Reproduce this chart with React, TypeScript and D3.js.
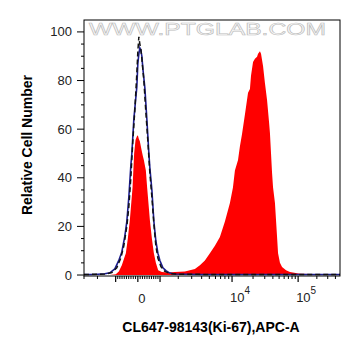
import React from "react";
import * as d3 from "d3";

// ---------- data (fluorescence value, relative count) ----------
const redSample: [number, number][] = [
  [-3000, 0], [-1292, 0], [-993, 0.3], [-850, 1.5], [-710, 4], [-619, 6.5], [-528, 9],
  [-439, 15], [-350, 22.6], [-284, 30], [-231, 36], [-162, 50], [-101, 55.5], [-44, 57],
  [0, 57.5], [44, 56], [87, 55], [162, 51.4], [218, 49], [262, 47.3], [350, 43], [407, 36],
  [461, 30], [528, 22.6], [619, 15], [710, 9], [802, 5], [910, 2], [1091, 1.2], [1399, 1],
  [1790, 1.2], [2454, 1.5], [3291, 2.5], [3804, 4], [4395, 6], [5086, 9], [5900, 12],
  [6858, 15.6], [7995, 22], [9349, 29.6], [10294, 36], [10961, 43], [12123, 47.3],
  [12897, 53], [13823, 58], [15213, 66], [16881, 75], [17993, 76.5], [18662, 82],
  [20000, 87.6], [21338, 89], [22950, 89.8], [23759, 91], [25368, 92], [26332, 91],
  [28261, 86], [30190, 79], [32528, 72], [34867, 63], [36036, 58.4], [37445, 50],
  [38854, 42], [40263, 36], [43082, 29.6], [46464, 15.6], [48155, 9], [51536, 5],
  [55629, 3.3], [64245, 2], [74151, 1.2], [106980, 0.5], [224800, 0.3], [475000, 0.2],
];

const blueIsotype: [number, number][] = [
  [-3000, 0.2], [-2190, 0.2], [-1560, 0.5], [-1292, 0.9], [-1040, 2.5], [-850, 6],
  [-710, 9.5], [-573, 16], [-484, 22], [-395, 32], [-306, 45], [-262, 50], [-175, 64],
  [-44, 77.5], [0, 87], [44, 91], [87, 93.4], [131, 92.5], [175, 90], [218, 85],
  [306, 77], [395, 64], [484, 50], [528, 44], [619, 35], [710, 22], [802, 14], [897, 9],
  [992, 6], [1141, 3], [1293, 1.8], [1505, 0.8], [1790, 0.4], [2454, 0.3], [3804, 0.2],
  [17993, 0.2], [475000, 0.2],
];

const blackControl: [number, number][] = [
  [-3000, 0.2], [-1560, 0.4], [-1191, 1], [-945, 3], [-756, 7], [-619, 12], [-484, 20],
  [-395, 28], [-306, 40], [-219, 55], [-131, 68], [-44, 83], [0, 92], [44, 98], [87, 95],
  [131, 93], [175, 89], [262, 80], [350, 67], [439, 55], [528, 42], [619, 32], [710, 21],
  [802, 12], [897, 7], [1042, 3.5], [1240, 1.5], [1505, 0.6], [2104, 0.3], [17993, 0.2],
  [475000, 0.2],
];

const X_DOMAIN = [-3000, 475000];
const Y_DOMAIN = [-0.4, 104.9];
const Y_TICKS = [0, 20, 40, 60, 80, 100];
const X_MAJOR_TICKS = [-1000, 0, 1000, 10000, 100000];
const X_TICK_LABELS = [
  { value: 0, base: "0", exp: "" },
  { value: 10000, base: "10", exp: "4" },
  { value: 100000, base: "10", exp: "5" },
];
const X_LABEL = "CL647-98143(Ki-67),APC-A";
const Y_LABEL = "Relative Cell Number";
const WATERMARK = "WWW.PTGLAB.COM";

// ---------- logicle-like transform ----------
const P = 4;
const K = 231;
function S(u: number) {
  const a = Math.abs(u);
  const v = K * (Math.exp(a) - P * P * Math.exp(-a / P) + P * P - 1);
  return u < 0 ? -v : v;
}
function logicle(x: number) {
  let lo = -15, hi = 15;
  for (let i = 0; i < 80; i++) {
    const mid = (lo + hi) / 2;
    if (S(mid) < x) lo = mid; else hi = mid;
  }
  return (lo + hi) / 2;
}

const W = 361, H = 356;
const M = { left: 84, top: 20, right: 21, bottom: 80 };
const FONT = "'Liberation Sans', Arial, Helvetica, sans-serif";

export default function App() {
  const iw = W - M.left - M.right;
  const ih = H - M.top - M.bottom;
  const uScale = d3.scaleLinear().domain([logicle(X_DOMAIN[0]), logicle(X_DOMAIN[1])]).range([0, iw]);
  const x = (v: number) => uScale(logicle(v));
  const y = d3.scaleLinear().domain(Y_DOMAIN).range([ih, 0]);

  const area = d3.area<[number, number]>().x(d => x(d[0])).y0(y(0)).y1(d => y(d[1]));
  const line = d3.line<[number, number]>().x(d => x(d[0])).y(d => y(d[1]));

  const minor: number[] = [
    -3000, -2000,
    ...d3.range(-900, 0, 100),
    ...d3.range(100, 1000, 100),
    ...d3.range(2000, 10000, 1000),
    ...d3.range(20000, 100000, 10000),
    ...d3.range(200000, 500000, 100000),
  ].filter(v => v >= X_DOMAIN[0] && v <= X_DOMAIN[1]);
  const yMinor = d3.range(5, 105, 5).filter(v => v % 20 !== 0);

  return (
    <svg width={W} height={H} style={{ position: "absolute", left: 0, top: 0, background: "#fff" }}
      fontFamily={FONT}>
      <defs>
        <clipPath id="plotclip"><rect x={0} y={0} width={iw} height={ih} /></clipPath>
      </defs>
      <g transform={`translate(${M.left},${M.top})`}>
        <text x={5} y={15} fontSize={17} fill="#fafafa" stroke="#bdbdbd"
          strokeWidth={0.6} textLength={237} lengthAdjust="spacingAndGlyphs">{WATERMARK}</text>
        <g clipPath="url(#plotclip)">
          <path d={area(redSample) || ""} fill="#ff0000" />
          <path d={line(blueIsotype) || ""} fill="none" stroke="#1c1c8e" strokeWidth={1.6} />
          <path d={line(blackControl) || ""} fill="none" stroke="#111" strokeWidth={1.5} strokeDasharray="5,3" />
        </g>
        <rect x={0} y={0} width={iw} height={ih} fill="none" stroke="#000" strokeWidth={1} />
        {/* y axis ticks */}
        {Y_TICKS.map(t => (
          <g key={"yt" + t} transform={`translate(0,${y(t)})`}>
            <line x1={-7} x2={0} stroke="#000" />
            <text x={-12} dy="0.35em" textAnchor="end" fontSize={13} fill="#222">{t}</text>
          </g>
        ))}
        {yMinor.map(t => (
          <line key={"ym" + t} x1={-3} x2={0} y1={y(t)} y2={y(t)} stroke="#000" />
        ))}
        {/* x axis ticks */}
        {X_MAJOR_TICKS.map(t => (
          <line key={"xt" + t} x1={x(t)} x2={x(t)} y1={ih} y2={ih + 6} stroke="#000" strokeWidth={1.2} />
        ))}
        {minor.map(t => (
          <line key={"xm" + t} x1={x(t)} x2={x(t)} y1={ih} y2={ih + 3} stroke="#000" />
        ))}
        {X_TICK_LABELS.map(l => (
          l.exp ? (
            <text key={"xl" + l.value} x={x(l.value) - 2} y={ih + 26} fontSize={13} fill="#222">
              {l.base}
              <tspan fontSize={10} dy={-8}>{l.exp}</tspan>
            </text>
          ) : (
            <text key={"xl" + l.value} x={x(l.value) + 4} y={ih + 27} fontSize={13} fill="#222" textAnchor="middle">{l.base}</text>
          )
        ))}
        <text x={127} y={ih + 56} textAnchor="middle" fontSize={14} fontWeight="bold" fill="#000">{X_LABEL}</text>
        <text transform={`translate(${-52},${125}) rotate(-90)`} textAnchor="middle" fontSize={14}
          fontWeight="bold" fill="#000">{Y_LABEL}</text>
      </g>
    </svg>
  );
}
